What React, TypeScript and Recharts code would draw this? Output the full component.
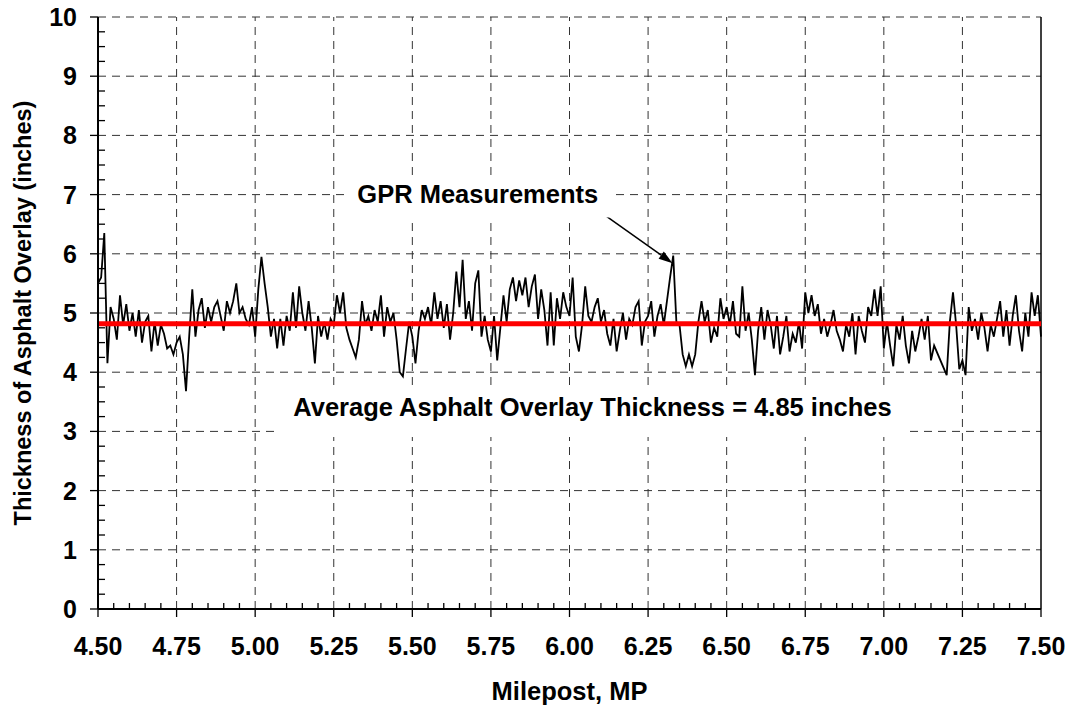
import React from "react";
import {
  LineChart,
  Line,
  XAxis,
  YAxis,
  ReferenceLine,
  ReferenceDot,
} from "recharts";

// GPR asphalt overlay thickness (inches), one reading every 0.01 mile from MP 4.50
const MP_450_499 = [
  5.5, 5.6, 6.35, 4.15, 5.1, 4.9, 4.55, 5.3, 4.8, 5.15,
  4.7, 5.0, 4.6, 5.05, 4.5, 4.85, 4.95, 4.35, 4.85, 4.45,
  4.8, 4.65, 4.4, 4.45, 4.3, 4.5, 4.6, 4.3, 3.68, 4.6,
  5.4, 4.6, 5.05, 5.25, 4.75, 5.1, 4.85, 5.1, 5.2, 4.95,
  4.7, 5.2, 5.0, 5.2, 5.5, 5.0, 5.1, 4.9, 4.8, 5.1,
];
const MP_500_549 = [
  4.6, 5.4, 5.95, 5.5, 5.1, 4.6, 4.9, 4.4, 4.9, 4.45,
  4.95, 4.7, 5.35, 4.75, 5.45, 5.0, 4.7, 5.2, 4.75, 4.15,
  4.95, 4.6, 4.85, 4.55, 4.9, 4.8, 5.3, 5.0, 5.35, 4.75,
  4.55, 4.4, 4.25, 4.55, 5.2, 4.8, 4.95, 4.7, 5.05, 4.85,
  5.3, 4.6, 5.1, 4.85, 5.0, 4.55, 4.0, 3.93, 4.4, 4.85,
];
const MP_550_599 = [
  4.6, 4.15, 4.7, 5.05, 4.9, 5.1, 4.8, 5.35, 4.9, 5.2,
  4.75, 5.15, 4.55, 5.0, 5.7, 5.1, 5.9, 4.9, 5.2, 4.7,
  5.5, 5.72, 4.6, 4.95, 4.55, 4.35, 4.95, 4.2, 4.75, 5.3,
  4.85, 5.4, 5.6, 5.2, 5.55, 5.3, 5.6, 5.1, 5.45, 5.65,
  4.9, 5.4, 5.05, 4.45, 5.35, 4.45, 5.25, 4.9, 5.35, 5.1,
];
const MP_600_649 = [
  4.95, 5.6, 4.6, 4.35, 4.8, 5.45, 4.95, 4.85, 5.1, 5.25,
  4.85, 5.05, 4.65, 4.45, 4.9, 4.35, 4.7, 5.0, 4.55, 4.9,
  4.8, 5.1, 5.2, 4.45, 4.85, 4.95, 5.2, 4.6, 4.95, 5.15,
  4.8, 5.2, 5.6, 5.97, 4.85, 4.8, 4.3, 4.1, 4.3, 4.1,
  4.3, 4.85, 5.2, 4.85, 5.05, 4.5, 4.75, 4.6, 5.25, 4.9,
];
const MP_650_699 = [
  5.1, 4.8, 5.2, 4.65, 4.6, 5.45, 4.7, 5.0, 4.55, 3.95,
  4.7, 5.1, 4.55, 5.05, 4.8, 4.4, 4.95, 4.3, 4.6, 4.95,
  4.35, 4.65, 4.5, 4.85, 4.4, 5.35, 5.0, 5.3, 4.95, 5.15,
  4.65, 4.9, 4.6, 4.8, 5.05, 4.7, 4.55, 4.35, 4.8, 4.6,
  5.0, 4.3, 4.95, 4.7, 4.5, 5.1, 4.95, 5.4, 4.95, 5.45,
];
const MP_700_750 = [
  4.4, 4.85, 4.45, 4.1, 4.8, 4.55, 4.95, 4.45, 4.15, 4.7,
  4.35, 4.6, 4.9, 4.55, 4.95, 4.2, 4.45, null, null, null,
  3.95, 4.85, 5.35, 4.8, 4.05, 4.2, 3.95, 5.1, 4.7, 4.9,
  4.55, 5.0, 4.75, 4.35, 4.8, 4.6, 4.9, 5.2, 4.6, 5.05,
  4.45, 4.95, 5.3, 4.7, 4.35, 5.0, 4.6, 5.35, 4.95, 5.3,
  4.6,
];

const START_MP = 4.5;
const STEP_MP = 0.01;
const AVERAGE_LINE = 4.82;

const X_MAJOR = [4.5, 4.75, 5.0, 5.25, 5.5, 5.75, 6.0, 6.25, 6.5, 6.75, 7.0, 7.25, 7.5];
const Y_MAJOR = [0, 1, 2, 3, 4, 5, 6, 7, 8, 9, 10];

const GPR_LABEL = { mp: 5.325, value: 6.85, text: "GPR Measurements" };
const GPR_ARROW = { fromMp: 6.092, fromValue: 6.73, toMp: 6.328, toValue: 5.84 };
const AVG_LABEL = { mp: 6.073, value: 3.26, text: "Average Asphalt Overlay Thickness = 4.85 inches" };

const FONT = '"Liberation Sans", Arial, Helvetica, sans-serif';
const X_MARGIN = 28;
const Y_MARGIN = 21;

const readings = [
  ...MP_450_499,
  ...MP_500_549,
  ...MP_550_599,
  ...MP_600_649,
  ...MP_650_699,
  ...MP_700_750,
];
const data = readings.map((t, i) => ({
  mp: Math.round((START_MP + i * STEP_MP) * 100) / 100,
  thickness: t,
}));

const xTicks = X_MAJOR.flatMap((v, i) =>
  i === X_MAJOR.length - 1 ? [v] : [0, 1, 2, 3, 4].map((k) => Math.round((v + k * 0.05) * 100) / 100)
);
const yTicks = Y_MAJOR.flatMap((v, i) =>
  i === Y_MAJOR.length - 1 ? [v] : [0, 1, 2, 3].map((k) => v + k * 0.25)
);

const XTick = (props: any) => {
  const { x, y, payload } = props;
  const v = payload.value;
  const axisY = y - X_MARGIN;
  const major = Math.abs(v * 4 - Math.round(v * 4)) < 1e-6;
  if (!major) {
    return <line x1={x} x2={x} y1={axisY - 6} y2={axisY} stroke="#000" strokeWidth={1.3} />;
  }
  return (
    <g>
      <line x1={x} x2={x} y1={axisY} y2={axisY + 8} stroke="#000" strokeWidth={1.3} />
      <text x={x} y={axisY + 46} textAnchor="middle" fontFamily={FONT} fontWeight="bold" fontSize={25} fill="#000">
        {v.toFixed(2)}
      </text>
    </g>
  );
};

const YTick = (props: any) => {
  const { x, y, payload } = props;
  const v = payload.value;
  const axisX = x + Y_MARGIN;
  const major = Math.abs(v - Math.round(v)) < 1e-6;
  if (!major) {
    return <line x1={axisX} x2={axisX + 7} y1={y} y2={y} stroke="#000" strokeWidth={1.3} />;
  }
  return (
    <g>
      <line x1={axisX - 8} x2={axisX} y1={y} y2={y} stroke="#000" strokeWidth={1.3} />
      <text x={x} y={y} dy="0.36em" textAnchor="end" fontFamily={FONT} fontWeight="bold" fontSize={25} fill="#000">
        {v}
      </text>
    </g>
  );
};

const Arrow = (p: any) => {
  const { x1, y1, x2, y2 } = p;
  const a = Math.atan2(y2 - y1, x2 - x1);
  const len = 14;
  const half = 4.5;
  const bx = x2 - len * Math.cos(a);
  const by = y2 - len * Math.sin(a);
  const pts = `${x2},${y2} ${bx - half * Math.sin(a)},${by + half * Math.cos(a)} ${bx + half * Math.sin(a)},${by - half * Math.cos(a)}`;
  return (
    <g>
      <line x1={x1} y1={y1} x2={bx} y2={by} stroke="#000" strokeWidth={1.5} />
      <polygon points={pts} fill="#000" />
    </g>
  );
};

const GprText = (p: any) => (
  <g>
    <rect x={p.cx - 12} y={p.cy - 28} width={265} height={42} fill="#fff" />
    <text x={p.cx} y={p.cy} fontFamily={FONT} fontWeight="bold" fontSize={25.5} fill="#000">
      {GPR_LABEL.text}
    </text>
  </g>
);

const AvgText = (p: any) => (
  <g>
    <rect x={p.cx - 314} y={p.cy - 28} width={627} height={49} fill="#fff" />
    <text x={p.cx} y={p.cy} textAnchor="middle" fontFamily={FONT} fontWeight="bold" fontSize={25.5} fill="#000">
      {AVG_LABEL.text}
    </text>
  </g>
);

export default function App() {
  return (
    <div style={{ width: 1073, height: 710, margin: "-8px 0 0 -8px", background: "#fff" }}>
      <LineChart width={1073} height={710} data={data} margin={{ top: 17, right: 32, bottom: 41, left: 18 }}>
        {X_MAJOR.slice(1, -1).map((v) => (
          <ReferenceLine key={"gx" + v} x={v} stroke="#333" strokeDasharray="8 6" strokeWidth={1} />
        ))}
        {Y_MAJOR.slice(1).map((v) => (
          <ReferenceLine key={"gy" + v} y={v} stroke="#333" strokeDasharray="8 6" strokeWidth={1} />
        ))}
        <ReferenceLine x={7.5} stroke="#000" strokeWidth={1.5} />
        <ReferenceDot x={GPR_LABEL.mp} y={GPR_LABEL.value} r={0} shape={GprText} />
        <ReferenceDot x={AVG_LABEL.mp} y={AVG_LABEL.value} r={0} shape={AvgText} />
        <ReferenceLine
          segment={[
            { x: GPR_ARROW.fromMp, y: GPR_ARROW.fromValue },
            { x: GPR_ARROW.toMp, y: GPR_ARROW.toValue },
          ]}
          shape={Arrow}
        />
        <Line
          type="linear"
          dataKey="thickness"
          stroke="#000"
          strokeWidth={1.8}
          dot={false}
          connectNulls
          isAnimationActive={false}
        />
        <ReferenceLine y={AVERAGE_LINE} stroke="#ff0000" strokeWidth={5} />
        <XAxis
          dataKey="mp"
          type="number"
          domain={[4.5, 7.5]}
          ticks={xTicks}
          interval={0}
          height={60}
          tickSize={0}
          tickMargin={X_MARGIN}
          tick={(p: any) => <XTick {...p} />}
          axisLine={{ stroke: "#000", strokeWidth: 2 }}
          label={{
            value: "Milepost, MP",
            position: "bottom",
            offset: 13,
            style: { fontFamily: FONT, fontWeight: "bold", fontSize: 25.5, fill: "#000" },
          }}
        />
        <YAxis
          type="number"
          domain={[0, 10]}
          ticks={yTicks}
          interval={0}
          width={80}
          tickSize={0}
          tickMargin={Y_MARGIN}
          tick={(p: any) => <YTick {...p} />}
          axisLine={{ stroke: "#000", strokeWidth: 2 }}
          label={{
            value: "Thickness of Asphalt Overlay (inches)",
            angle: -90,
            position: "insideLeft",
            offset: 5,
            style: { fontFamily: FONT, fontWeight: "bold", fontSize: 23.5, fill: "#000", textAnchor: "middle" },
          }}
        />
      </LineChart>
    </div>
  );
}
